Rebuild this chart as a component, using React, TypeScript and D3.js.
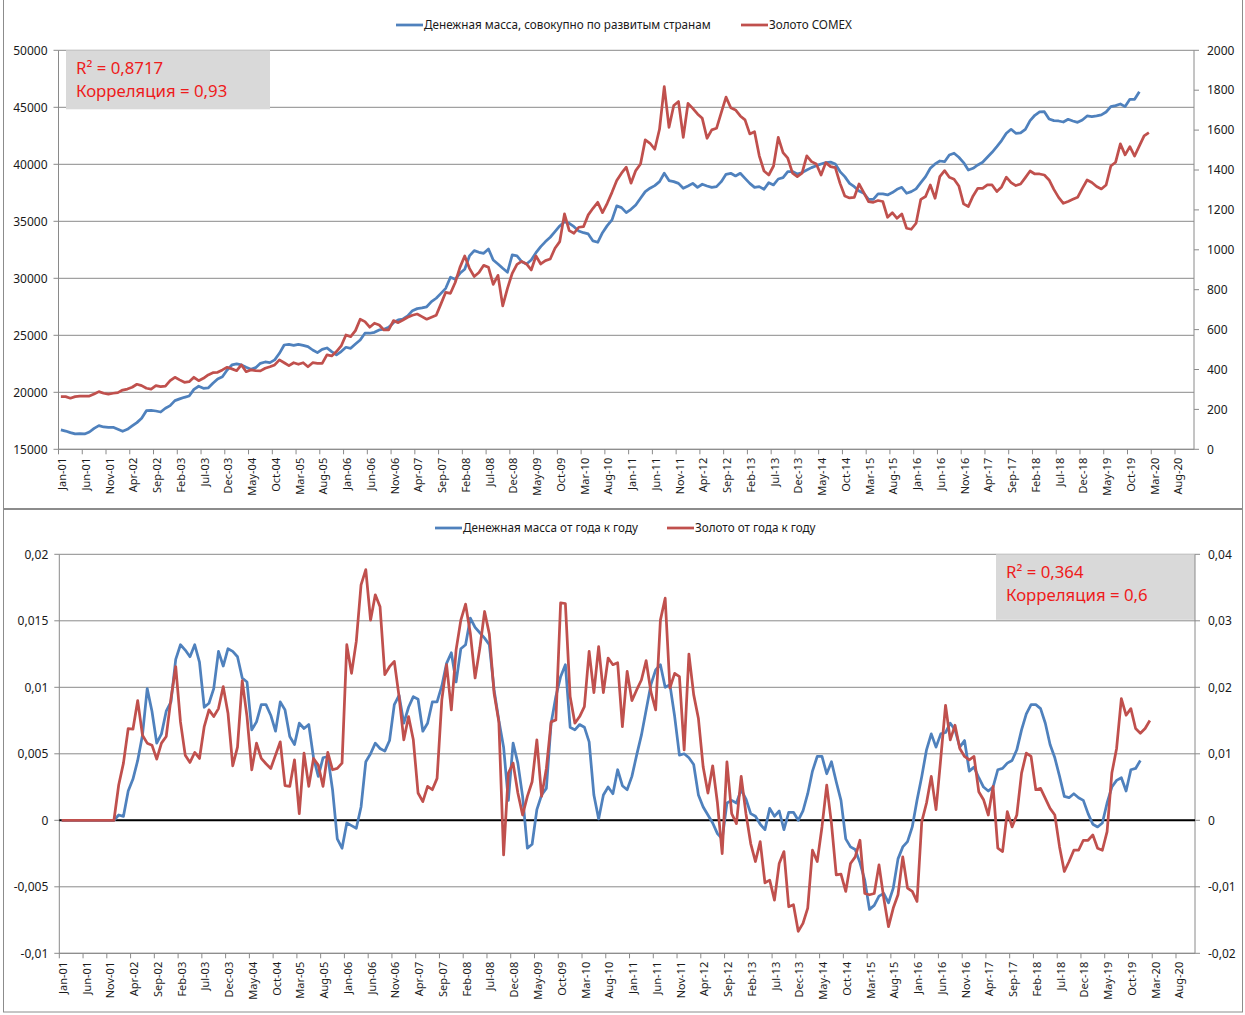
import React from "react";
import * as d3 from "d3";

const W = 1245;
const H = 1015;

// x tick labels, every 5 months starting Jan-01
const tickLabels = [
  "Jan-01", "Jun-01", "Nov-01", "Apr-02", "Sep-02", "Feb-03", "Jul-03", "Dec-03",
  "May-04", "Oct-04", "Mar-05", "Aug-05", "Jan-06", "Jun-06", "Nov-06", "Apr-07",
  "Sep-07", "Feb-08", "Jul-08", "Dec-08", "May-09", "Oct-09", "Mar-10", "Aug-10",
  "Jan-11", "Jun-11", "Nov-11", "Apr-12", "Sep-12", "Feb-13", "Jul-13", "Dec-13",
  "May-14", "Oct-14", "Mar-15", "Aug-15", "Jan-16", "Jun-16", "Nov-16", "Apr-17",
  "Sep-17", "Feb-18", "Jul-18", "Dec-18", "May-19", "Oct-19", "Mar-20", "Aug-20",
];
const monthCount = 239; // Jan-01 .. Nov-20 on the category axis
const tickStep = 5;

// money supply, developed countries total (left axis, top chart)
const moneySupply = [
  16700, 16600, 16460, 16350, 16370, 16350, 16520, 16840, 17080, 16960,
  16930, 16930, 16750, 16580, 16750, 17050, 17340, 17720, 18390, 18420,
  18360, 18270, 18600, 18830, 19270, 19420, 19560, 19680, 20260, 20530,
  20350, 20380, 20790, 21170, 21370, 21960, 22400, 22490, 22400, 22190,
  22020, 22160, 22540, 22660, 22600, 22840, 23420, 24150, 24210, 24120,
  24210, 24120, 24010, 23710, 23480, 23770, 23890, 23570, 23280, 23570,
  23950, 23860, 24240, 24590, 25180, 25180, 25260, 25470, 25530, 25700,
  26110, 26350, 26430, 26700, 27160, 27340, 27400, 27500, 27950, 28250,
  28680, 29120, 30090, 29910, 30440, 30790, 31960, 32430, 32280, 32190,
  32570, 31610, 31260, 30880, 30530, 32050, 31960, 31460, 31260, 31610,
  32250, 32780, 33220, 33600, 34090, 34590, 34970, 34820, 34530, 34150,
  34000, 33890, 33280, 33160, 34000, 34620, 35120, 36350, 36200, 35760,
  36050, 36430, 37020, 37600, 37900, 38130, 38480, 39210, 38570, 38480,
  38330, 37900, 38100, 38330, 37980, 38250, 38100, 37980, 38040, 38480,
  39120, 39210, 38980, 39210, 38770, 38330, 37980, 38040, 37810, 38390,
  38190, 38710, 38830, 39360, 39360, 39150, 39270, 39500, 39710, 39880,
  40030, 40150, 40200, 40030, 39360, 38920, 38330, 38040, 37660, 37460,
  36930, 36930, 37400, 37400, 37310, 37520, 37810, 37980, 37460, 37600,
  37840, 38390, 38920, 39650, 40030, 40290, 40230, 40820, 40970, 40620,
  40150, 39500, 39650, 39940, 40180, 40620, 41050, 41550, 42080, 42720,
  43070, 42720, 42750, 43070, 43830, 44300, 44590, 44620, 43980, 43830,
  43800, 43710, 43950, 43800, 43680, 43890, 44240, 44180, 44240, 44330,
  44590, 45060, 45150, 45290, 45060, 45700, 45700, 46370,
];

// COMEX gold (right axis, top chart)
const goldComex = [
  264, 264, 256, 264, 267, 267, 267, 277, 289, 281,
  277, 281, 284, 297, 302, 311, 326, 319, 306, 302,
  319, 314, 317, 344, 361, 348, 336, 339, 361, 344,
  356, 373, 384, 386, 398, 411, 403, 394, 423, 389,
  398, 394, 393, 406, 414, 423, 448, 434, 419, 434,
  426, 434, 414, 434, 431, 431, 473, 468, 490, 518,
  573, 565, 595, 652, 640, 612, 632, 623, 598, 598,
  645, 635, 648, 662, 672, 678, 665, 652, 662, 672,
  729, 787, 782, 836, 912, 969, 907, 866, 886, 922,
  912, 827, 872, 719, 807, 882, 927, 942, 929, 899,
  969, 929, 946, 954, 1008, 1041, 1180, 1096, 1083, 1113,
  1116, 1175, 1208, 1238, 1186, 1233, 1288, 1347, 1384, 1414,
  1334, 1397, 1430, 1551, 1534, 1504, 1604, 1818, 1614, 1723,
  1743, 1564, 1734, 1709, 1681, 1659, 1559, 1601, 1609, 1688,
  1765, 1712, 1701, 1671, 1651, 1581, 1592, 1471, 1395, 1375,
  1420, 1564, 1487, 1459, 1384, 1367, 1384, 1471, 1442, 1430,
  1375, 1437, 1417, 1412, 1333, 1270, 1260, 1263, 1330, 1287,
  1242, 1238, 1247, 1242, 1163, 1186, 1158, 1180, 1108, 1103,
  1133, 1253, 1267, 1325, 1258, 1367, 1397, 1364, 1354, 1320,
  1230, 1217, 1270, 1308, 1308, 1325, 1325, 1292, 1315, 1364,
  1337, 1322, 1330, 1362, 1395, 1380, 1380, 1375, 1350, 1303,
  1263, 1233, 1242, 1253, 1263, 1308, 1350, 1337, 1317, 1305,
  1325, 1420, 1439, 1531, 1476, 1517, 1470, 1521, 1571, 1587,
];

// money supply year over year (left axis, bottom chart)
const moneyYoY = [
  0, 0, 0, 0, 0, 0, 0, 0, 0, 0,
  0, 0, 0.0004, 0.0003, 0.0022, 0.0031, 0.0045, 0.0064, 0.0099, 0.0082,
  0.0058, 0.0065, 0.0082, 0.0089, 0.0121, 0.0132, 0.0128, 0.0123, 0.0132, 0.0119,
  0.0085, 0.0088, 0.0099, 0.0127, 0.0116, 0.0129, 0.0127, 0.0123, 0.0107, 0.0104,
  0.0068, 0.0074, 0.0087, 0.0087, 0.0079, 0.0067, 0.0089, 0.0083, 0.0063, 0.0057,
  0.0073, 0.0069, 0.0072, 0.0047, 0.0033, 0.0047, 0.0048, 0.0023, -0.0014, -0.0021,
  -0.0002, -0.0004, -0.0006, 0.001, 0.0044, 0.005, 0.0058, 0.0054, 0.0052, 0.006,
  0.0087, 0.0094, 0.0073, 0.0085, 0.0093, 0.0091, 0.0067, 0.0073, 0.0089, 0.0089,
  0.0101, 0.0118, 0.0126, 0.0104, 0.0129, 0.0132, 0.0152, 0.0145, 0.0141, 0.0137,
  0.0132, 0.0098, 0.0075, 0.0055, 0.0015, 0.0058, 0.0043, 0.0018, -0.0021, -0.0018,
  0.0008, 0.0019, 0.0024, 0.0073, 0.0093, 0.0108, 0.0117, 0.007, 0.0068, 0.0072,
  0.007, 0.0059, 0.0019, 0.0001, 0.0019, 0.0025, 0.002, 0.0038, 0.0026, 0.0023,
  0.0033, 0.0049, 0.0064, 0.0083, 0.0102, 0.0113, 0.0117, 0.01, 0.0102, 0.0078,
  0.0049, 0.005, 0.0047, 0.0042, 0.0019, 0.001, 0.0004, -0.0002, -0.001, -0.0014,
  0.0013, 0.0015, 0.0013, 0.0023, 0.0016, 0.0005, 0.0003, -0.0003, -0.0007, 0.0009,
  0.0003, 0.0007, -0.0007, 0.0006, 0.0006, 0.0, 0.0007, 0.002, 0.0037, 0.0048,
  0.0048, 0.0035, 0.0044, 0.0029, 0.0015, -0.0014, -0.002, -0.0022, -0.0032, -0.0045,
  -0.0067, -0.0064, -0.0057, -0.0055, -0.0062, -0.0051, -0.0029, -0.002, -0.0016, -0.0005,
  0.0015, 0.0033, 0.0053, 0.0065, 0.0055, 0.0065, 0.0066, 0.0073, 0.0068, 0.0055,
  0.006, 0.0037, 0.004, 0.0032, 0.0025, 0.0022, 0.0025, 0.0038, 0.0039, 0.0043,
  0.0045, 0.0053, 0.0068, 0.008, 0.0087, 0.0087, 0.0084, 0.0073, 0.0057, 0.0047,
  0.0033, 0.0018, 0.0017, 0.002, 0.0017, 0.0015, 0.0005, -0.0003, -0.0005, -0.0002,
  0.0013, 0.0025, 0.003, 0.0032, 0.0022, 0.0038, 0.0039, 0.0045,
];

// gold year over year (right axis, bottom chart)
const goldYoY = [
  0, 0, 0, 0, 0, 0, 0, 0, 0, 0,
  0, 0, 0.0053, 0.0086, 0.0138, 0.0137, 0.018, 0.0128, 0.0116, 0.0113,
  0.0092, 0.0116, 0.0126, 0.0183, 0.0231, 0.0148, 0.0098, 0.0087, 0.0102, 0.0093,
  0.0141, 0.0166, 0.0156, 0.0168, 0.0201, 0.0161, 0.0082, 0.011, 0.021, 0.0156,
  0.0076, 0.0116, 0.0093, 0.0085, 0.0078, 0.0098, 0.0118, 0.0052, 0.0051, 0.0091,
  0.001, 0.0101, 0.0051, 0.0093, 0.0083, 0.0051, 0.0102, 0.0076, 0.0078, 0.0086,
  0.0264, 0.0221, 0.0269, 0.0354, 0.0377, 0.0301, 0.0339, 0.0321, 0.0219, 0.0231,
  0.0239, 0.0186, 0.0121, 0.0156, 0.0121, 0.0041, 0.0028, 0.0051, 0.0046, 0.0063,
  0.0181, 0.0234, 0.0166, 0.0256, 0.0301, 0.0325, 0.0281, 0.0214, 0.0259, 0.0314,
  0.028, 0.0191, 0.0148, -0.0052, 0.0071, 0.0086, 0.0041, 0.0008, 0.0036, 0.0058,
  0.0121, 0.0036, 0.0078, 0.0148, 0.0151, 0.0327, 0.0326, 0.0186, 0.0146, 0.0156,
  0.0171, 0.0254, 0.0192, 0.0261, 0.0192, 0.0244, 0.0234, 0.0237, 0.0141, 0.0224,
  0.018, 0.0196, 0.0211, 0.024, 0.0193, 0.0166, 0.0301, 0.0334, 0.0199, 0.0221,
  0.0216, 0.0106, 0.025, 0.0189, 0.0153, 0.008, 0.0041, 0.0082, 0.0026, -0.005,
  0.0088, 0.001, -0.0005, 0.0066, 0.001, -0.0035, -0.0062, -0.0032, -0.0094, -0.009,
  -0.012, -0.0065, -0.0047, -0.013, -0.0127, -0.0167, -0.0155, -0.0132, -0.0045, -0.0062,
  -0.001, 0.0053, -0.0005, -0.0082, -0.0081, -0.0107, -0.0065, -0.0055, -0.003, -0.011,
  -0.0112, -0.011, -0.0067, -0.0117, -0.016, -0.0132, -0.0112, -0.0055, -0.0102, -0.0107,
  -0.0122, -0.0002, 0.0026, 0.0066, 0.0016, 0.0093, 0.0173, 0.0121, 0.0143, 0.0108,
  0.0096, 0.0091, 0.0096, 0.0043, 0.0031, 0.0008, 0.0051, -0.0042, -0.0047, 0.0013,
  -0.001, 0.0008, 0.0071, 0.0101, 0.0096, 0.0046, 0.0048, 0.0033, 0.0018, 0.0008,
  -0.004, -0.0077, -0.0062, -0.0045, -0.0045, -0.003, -0.003, -0.0022, -0.0042, -0.0045,
  -0.0017, 0.0071, 0.0108, 0.0183, 0.0158, 0.0168, 0.0138, 0.0131, 0.0138, 0.015,
];

const topLeftTicks = d3.range(15000, 50001, 5000);
const topRightTicks = d3.range(0, 2001, 200);
const botLeftTicks = [-0.01, -0.005, 0, 0.005, 0.01, 0.015, 0.02];
const botRightTicks = [-0.02, -0.01, 0, 0.01, 0.02, 0.03, 0.04];

const BLUE = "#4f81bd";
const RED = "#c0504d";
const GRID = "#8a8a8a";
const TEXT = "#1a1a1a";
const NOTE = "#ee1c1c";
const FONT = "'Noto Sans', 'DejaVu Sans', sans-serif";

const commaNum = (v: number) => String(+v.toFixed(4)).replace(".", ",");

type PanelProps = {
  x0: number; x1: number; yTop: number; yBot: number;
  leftDomain: [number, number]; rightDomain: [number, number];
  leftTicks: number[]; rightTicks: number[];
  fmt: (v: number) => string;
  blue: number[]; red: number[];
  legend: [string, string]; legendX: [number, number]; legendY: number;
  note: [string, string]; noteBox: [number, number, number, number];
  zeroLine?: boolean;
};

function Panel(p: PanelProps) {
  const x = d3.scaleLinear().domain([0, monthCount]).range([p.x0, p.x1]);
  const yl = d3.scaleLinear().domain(p.leftDomain).range([p.yBot, p.yTop]);
  const yr = d3.scaleLinear().domain(p.rightDomain).range([p.yBot, p.yTop]);
  const lineL = d3.line<number>().x((_, i) => x(i + 0.5)).y((d) => yl(d));
  const lineR = d3.line<number>().x((_, i) => x(i + 0.5)).y((d) => yr(d));
  const [bx, by, bw, bh] = p.noteBox;

  return (
    <g fontFamily={FONT}>
      {/* gridlines */}
      {p.leftTicks.map((t) => (
        <line key={"g" + t} x1={p.x0} x2={p.x1} y1={yl(t)} y2={yl(t)} stroke={GRID} strokeWidth={1} />
      ))}
      {/* note box */}
      <rect x={bx} y={by} width={bw} height={bh} fill="#d9d9d9" />
      <text x={bx + 10} y={by + 24} fill={NOTE} fontSize={16.8}>{p.note[0]}</text>
      <text x={bx + 10} y={by + 47} fill={NOTE} fontSize={16.8}>{p.note[1]}</text>

      {/* axes */}
      <line x1={p.x0} x2={p.x0} y1={p.yTop} y2={p.yBot} stroke={GRID} />
      <line x1={p.x1} x2={p.x1} y1={p.yTop} y2={p.yBot} stroke={GRID} />
      <line x1={p.x0} x2={p.x1} y1={p.yBot} y2={p.yBot} stroke={GRID} />
      {p.leftTicks.map((t) => (
        <g key={"l" + t}>
          <line x1={p.x0 - 5} x2={p.x0} y1={yl(t)} y2={yl(t)} stroke={GRID} />
          <text x={p.x0 - 11} y={yl(t)} dy="0.35em" textAnchor="end" fontSize={12} fill={TEXT}>{p.fmt(t)}</text>
        </g>
      ))}
      {p.rightTicks.map((t) => (
        <g key={"r" + t}>
          <line x1={p.x1} x2={p.x1 + 5} y1={yr(t)} y2={yr(t)} stroke={GRID} />
          <text x={p.x1 + 13} y={yr(t)} dy="0.35em" fontSize={12} fill={TEXT}>{p.fmt(t)}</text>
        </g>
      ))}
      {tickLabels.map((lab, k) => {
        const tx = x(k * tickStep);
        return (
          <g key={lab}>
            <line x1={tx} x2={tx} y1={p.yBot} y2={p.yBot + 5} stroke={GRID} />
            <text transform={`translate(${tx + 7.5},${p.yBot + 8.5}) rotate(-90)`} textAnchor="end" fontSize={11} fill={TEXT}>{lab}</text>
          </g>
        );
      })}
      {p.zeroLine && (
        <line x1={p.x0} x2={p.x1} y1={yl(0)} y2={yl(0)} stroke="#000" strokeWidth={2} />
      )}

      {/* series */}
      <path d={lineL(p.blue) || ""} fill="none" stroke={BLUE} strokeWidth={2.75} strokeLinejoin="round" />
      <path d={lineR(p.red) || ""} fill="none" stroke={RED} strokeWidth={2.75} strokeLinejoin="round" />

      {/* legend */}
      <line x1={p.legendX[0]} x2={p.legendX[0] + 27} y1={p.legendY} y2={p.legendY} stroke={BLUE} strokeWidth={2.75} />
      <text x={p.legendX[0] + 28} y={p.legendY} dy="0.35em" fontSize={11.7} fill={TEXT}>{p.legend[0]}</text>
      <line x1={p.legendX[1]} x2={p.legendX[1] + 27} y1={p.legendY} y2={p.legendY} stroke={RED} strokeWidth={2.75} />
      <text x={p.legendX[1] + 28} y={p.legendY} dy="0.35em" fontSize={11.7} fill={TEXT}>{p.legend[1]}</text>
    </g>
  );
}

export default function App() {
  return (
    <svg width={W} height={H} style={{ position: "absolute", left: 0, top: 0, background: "#fff" }}>
      <rect x={3.5} y={-2} width={1239} height={510.5} fill="#fff" stroke="#8c8c8c" />
      <rect x={3.5} y={509.5} width={1239} height={502.5} fill="#fff" stroke="#8c8c8c" />
      <Panel
        x0={58.5} x1={1194} yTop={50.3} yBot={449.3}
        leftDomain={[15000, 50000]} rightDomain={[0, 2000]}
        leftTicks={topLeftTicks} rightTicks={topRightTicks}
        fmt={(v) => String(v)}
        blue={moneySupply} red={goldComex}
        legend={["Денежная  масса, совокупно по развитым странам", "Золото COMEX"]}
        legendX={[396, 741]} legendY={25}
        note={["R² = 0,8717", "Корреляция = 0,93"]}
        noteBox={[66, 50.3, 204, 59]}
      />
      <Panel
        x0={59.3} x1={1195} yTop={554.3} yBot={953.3}
        leftDomain={[-0.01, 0.02]} rightDomain={[-0.02, 0.04]}
        leftTicks={botLeftTicks} rightTicks={botRightTicks}
        fmt={commaNum}
        blue={moneyYoY} red={goldYoY}
        legend={["Денежная  масса от года к году", "Золото от года к году"]}
        legendX={[435, 667]} legendY={528}
        note={["R² = 0,364", "Корреляция = 0,6"]}
        noteBox={[996, 554.3, 199, 65.5]}
        zeroLine
      />
    </svg>
  );
}
